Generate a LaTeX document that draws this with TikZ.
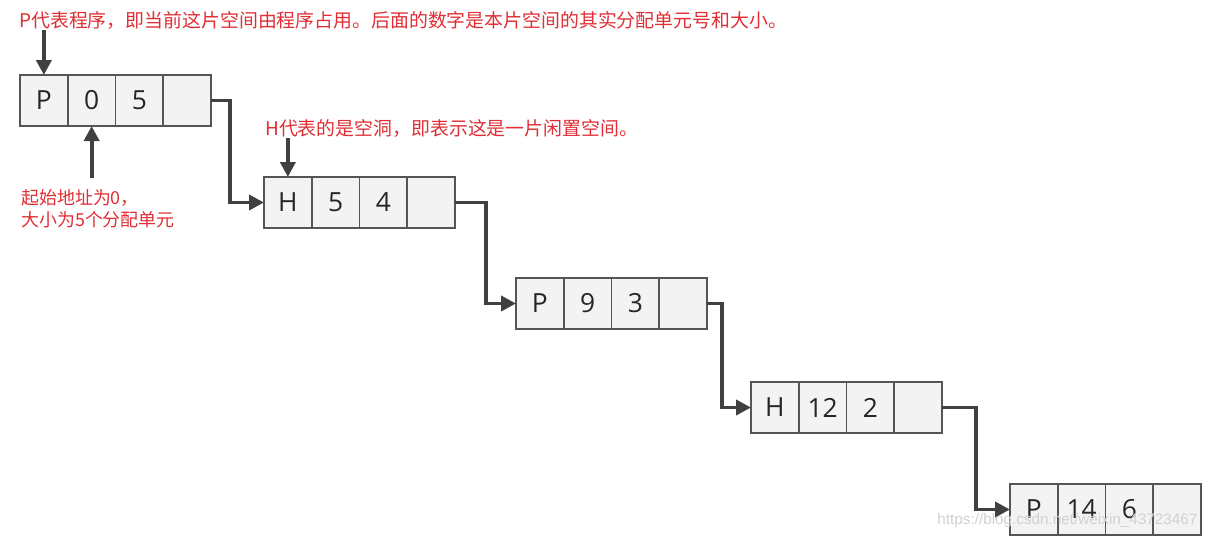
\documentclass[tikz,border=0pt]{standalone}
\usepackage{fontspec}
\usepackage{tikz}
\usetikzlibrary{positioning,arrows.meta}
\newfontfamily\cjk{Noto Sans CJK SC}
\newfontfamily\cellfont{Open Sans}
\newfontfamily\wmfont{Liberation Sans}
\definecolor{notered}{HTML}{E02E34}
\definecolor{wire}{HTML}{404040}
\definecolor{edge}{HTML}{555555}
\definecolor{cellbg}{HTML}{F3F3F3}
\tikzset{
  cell/.style={draw=edge, fill=cellbg, line width=0.9pt, minimum width=9.55mm, minimum height=10.2mm, inner sep=0pt, outer sep=0pt, font=\cellfont\fontsize{15}{17}\selectfont, text=black!85},
  link/.style={draw=wire, line width=2.2pt, line join=miter, -{Triangle[length=3mm,width=3mm]}},
  pointer/.style={draw=wire, line width=2.2pt, -{Triangle[length=3mm,width=3mm]}},
  note/.style={text=notered, font=\cjk\fontsize{10.75}{13}\selectfont, inner sep=0pt},
  stamp/.style={text=black!18, font=\wmfont\fontsize{8.7}{10}\selectfont, inner sep=0pt},
}
\begin{document}
\begin{tikzpicture}[x=0.2mm, y=-0.2mm]
  \useasboundingbox (0,0) rectangle (1212,550);
  % memory blocks
  \foreach \n/\x/\y/\a/\b/\c in {1/20/75/P/0/5, 2/264/177/H/5/4, 3/516/278/P/9/3, 4/751/382/H/12/2, 5/1010/484/P/14/6} {
    \node[cell, anchor=north west] (b\n-1) at (\x,\y) {\a};
    \node[cell, right=0pt of b\n-1] (b\n-2) {\b};
    \node[cell, right=0pt of b\n-2] (b\n-3) {\c};
    \node[cell, right=0pt of b\n-3] (b\n-4) {};
  }
  % links
  \draw[link] (b1-4.east) -- ++(19,0) |- (b2-1.west);
  \draw[link] (b2-4.east) -- ++(31,0) |- (b3-1.west);
  \draw[link] (b3-4.east) -- ++(15,0) |- (b4-1.west);
  \draw[link] (b4-4.east) -- ++(34,0) |- (b5-1.west);
  % notes
  \node[note, anchor=west] (top) at (19,21) {P代表程序，即当前这片空间由程序占用。后面的数字是本片空间的其实分配单元号和大小。};
  \node[note, anchor=west] (hole) at (265,129) {H代表的是空洞，即表示这是一片闲置空间。};
  \node[note, anchor=north west, align=left, font=\cjk\fontsize{10.2}{12.5}\selectfont] (start) at (21,189) {起始地址为0，\\大小为5个分配单元};
  \draw[pointer] (top.south -| b1-1) -- (b1-1.north);
  \draw[pointer] (start.north -| b1-2) ++(0,-11) -- (b1-2.south);
  \draw[pointer] (hole.south -| b2-1) -- (b2-1.north);
  \node[stamp, anchor=west] (wm) at (937,521) {https://blog.csdn.net/weixin\_43723467};
\end{tikzpicture}
\end{document}
